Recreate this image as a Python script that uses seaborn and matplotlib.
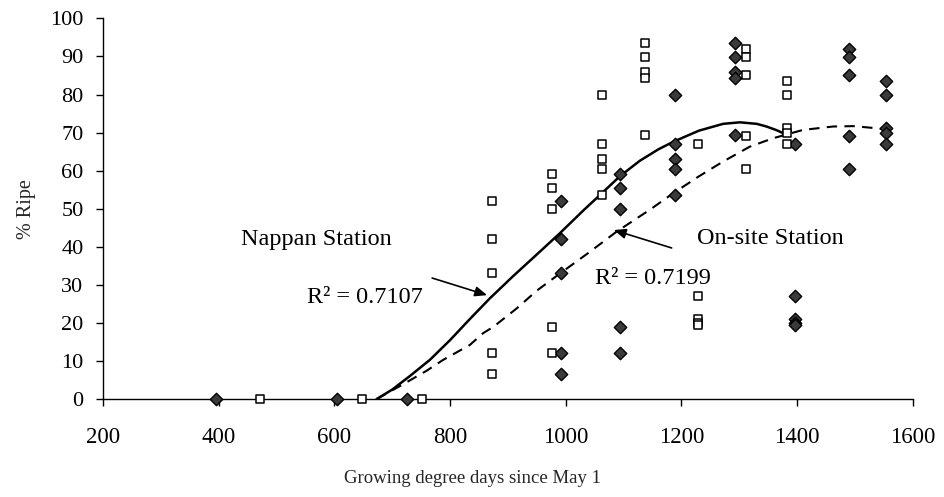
import matplotlib
matplotlib.use("Agg")
import matplotlib.pyplot as plt
import numpy as np
import pandas as pd
import seaborn as sns

# Sampling dates: accumulated growing degree days at each weather station
nappan_gdd = [471, 648, 752, 872, 977, 1063, 1137, 1229, 1311, 1382]
onsite_gdd = [395, 605, 725, 992, 1094, 1189, 1292, 1397, 1490, 1554]

# % ripe fruit observed in each plot on each sampling date
ripe_by_date = [
    [0],
    [0],
    [0],
    [52.0, 42.0, 33.0, 12.0, 6.5],
    [59.0, 55.5, 50.0, 19.0, 12.0],
    [80.0, 67.0, 63.0, 60.4, 53.6],
    [93.6, 89.8, 86.0, 84.3, 69.4],
    [67.0, 27.0, 21.0, 20.0, 19.5],
    [92.0, 89.8, 85.0, 69.1, 60.4],
    [83.5, 80.0, 71.2, 70.0, 67.0],
]

# Fitted trend lines
nappan_fit_x = [673, 700, 730, 765, 800, 834, 869, 909, 950, 990, 1030, 1059,
                1094, 1128, 1160, 1186, 1230, 1272, 1301, 1330, 1347, 1365, 1382]
nappan_fit_y = [0.0, 2.5, 6.0, 10.3, 15.5, 21.0, 26.5, 32.3, 38.0, 43.6, 49.5, 53.6,
                58.6, 62.6, 65.6, 67.6, 70.5, 72.3, 72.7, 72.3, 71.6, 70.6, 69.4]
onsite_fit_x = [673, 720, 760, 788, 834, 857, 875, 915, 950, 990, 1040, 1088,
                1145, 1185, 1230, 1272, 1318, 1358, 1410, 1462, 1497, 1526, 1554]
onsite_fit_y = [0.0, 4.0, 7.5, 10.3, 14.2, 17.3, 19.0, 23.8, 28.5, 33.0, 38.5, 44.0,
                49.7, 54.0, 58.5, 62.4, 66.3, 68.5, 70.7, 71.6, 71.7, 71.3, 70.8]

nappan_r2 = 0.7107
onsite_r2 = 0.7199

rows = []
for gn, go, vals in zip(nappan_gdd, onsite_gdd, ripe_by_date):
    for v in vals:
        rows.append({"gdd": gn, "ripe": v, "station": "Nappan"})
        rows.append({"gdd": go, "ripe": v, "station": "On-site"})
obs = pd.DataFrame(rows)

sns.set_theme(style="ticks")
plt.rcParams["font.family"] = ["Liberation Serif", "DejaVu Serif"]
plt.rcParams["text.color"] = "black"

fig = plt.figure(figsize=(9.45, 4.97), dpi=100)
ax = fig.add_axes([0.109, 0.197, 0.857, 0.766])

sns.lineplot(x=nappan_fit_x, y=nappan_fit_y, ax=ax, color="black", lw=1.8,
             sort=False, estimator=None, zorder=2)
sns.lineplot(x=onsite_fit_x, y=onsite_fit_y, ax=ax, color="black", lw=1.5,
             sort=False, estimator=None, zorder=2, dashes=False,
             linestyle=(0, (5, 3.5)))

sns.scatterplot(data=obs[obs.station == "Nappan"], x="gdd", y="ripe", ax=ax,
                marker="s", s=34, facecolor="white", edgecolor="black",
                linewidth=1.1, zorder=4, clip_on=False)
sns.scatterplot(data=obs[obs.station == "On-site"], x="gdd", y="ripe", ax=ax,
                marker="D", s=40, color="#3a3a3a", edgecolor="black",
                linewidth=1.0, zorder=3, clip_on=False)

ax.set_xlim(200, 1600)
ax.set_ylim(0, 100)
ax.set_xticks(np.arange(200, 1601, 200))
ax.set_yticks(np.arange(0, 101, 10))
sns.despine(ax=ax)
for s in ("left", "bottom"):
    ax.spines[s].set_linewidth(1.0)
    ax.spines[s].set_color("black")
ax.tick_params(axis="both", direction="out", length=5, width=1.0, colors="black")
ax.tick_params(axis="x", labelsize=16.5, pad=15)
ax.tick_params(axis="y", labelsize=16, pad=9)
ax.set_xlabel("Growing degree days since May 1", fontsize=13.5, labelpad=16, x=0.456)
ax.set_ylabel("% Ripe", fontsize=14.5, labelpad=10)

ann = dict(fontsize=17.5, color="black")
ax.text(438, 41.8, "Nappan Station", va="center", ha="left", **ann)
ax.text(552, 26.8, f"R² = {nappan_r2}", va="center", ha="left", **ann)
ax.text(1226, 42.3, "On-site Station", va="center", ha="left", **ann)
ax.text(1050, 31.7, f"R² = {onsite_r2}", va="center", ha="left", **ann)

arrow = dict(arrowstyle="-|>,head_length=0.6,head_width=0.25", color="black", lw=1.2,
             shrinkA=0, shrinkB=0)
ax.annotate("", xy=(864, 27.3), xytext=(769, 31.8), arrowprops=arrow)
ax.annotate("", xy=(1083, 44.4), xytext=(1183, 39.7), arrowprops=arrow)

fig.savefig("out.png", dpi=100)
